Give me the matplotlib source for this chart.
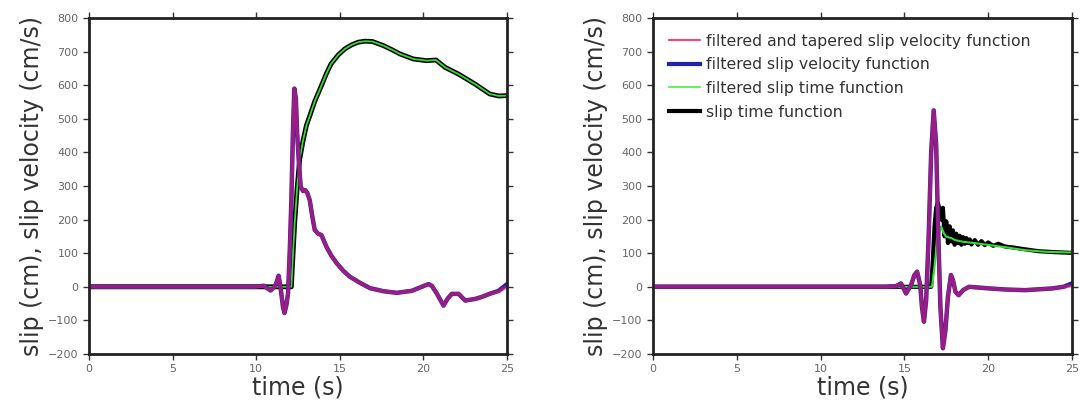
import matplotlib
matplotlib.use("Agg")
import matplotlib.pyplot as plt

# left panel: slip and slip velocity
t_slip_l = [0, 12.0, 12.1, 12.2, 12.3, 12.45, 12.6, 12.8, 13.0, 13.24, 13.5, 13.86, 14.2,
            14.47, 14.9, 15.3, 15.7, 16.1, 16.5, 16.95, 17.6, 18.1, 18.6, 19.4, 20.2,
            20.75, 21.0, 21.3, 22.1, 23.1, 23.96, 24.5, 25]
slip_l = [0, 0, 0, 98, 190, 296, 380, 435, 480, 514, 552, 594, 635,
          663, 690, 708, 720, 728, 731, 730, 718, 706, 693, 678, 673,
          675, 665, 653, 633, 603, 574, 568, 569]

t_vel_l = [0, 9.9, 10.45, 10.86, 11.05, 11.18, 11.34, 11.48, 11.6, 11.69, 11.8, 11.9,
           12.0, 12.1, 12.2, 12.28, 12.37, 12.45, 12.55, 12.66, 12.8, 12.92, 13.05,
           13.2, 13.35, 13.5, 13.7, 13.9, 14.2, 14.5, 14.8, 15.2, 15.6, 16.2, 16.8,
           17.6, 18.4, 19.3, 20.0, 20.3, 20.5, 20.8, 21.2, 21.45, 21.7, 22.1, 22.5,
           23.1, 23.5, 23.96, 24.5, 25]
vel_l = [0, 0, 3, -11, -2, 8, 33, -12, -60, -78, -55, -21,
         100, 256, 470, 590, 560, 455, 370, 298, 285, 288, 280,
         258, 210, 169, 158, 154, 119, 92, 71, 48, 30, 12, -4,
         -13, -18, -12, 2, 8, 3, -20, -56, -35, -21, -21, -41,
         -36, -30, -21, -12, 8]
vel_tap_l = [0, 0, 3, -11, -2, 8, 33, -12, -60, -78, -55, -21,
             100, 256, 470, 590, 560, 455, 370, 298, 285, 288, 280,
             258, 210, 169, 158, 154, 119, 92, 71, 48, 30, 12, -4,
             -13, -18, -12, 2, 8, 3, -20, -56, -35, -21, -21, -41,
             -36, -30, -21, -14, 0]

# right panel
t_vel_r = [0, 13.9, 14.5, 14.8, 15.1, 15.4, 15.6, 15.76, 15.95, 16.05, 16.17, 16.3,
           16.45, 16.6, 16.75, 16.9, 17.0, 17.15, 17.3, 17.45, 17.6, 17.78, 17.9,
           18.05, 18.24, 18.5, 18.86, 20.1, 21.0, 22.2, 23.8, 24.5, 25]
vel_r = [0, 0, 2, 10, -20, 5, 35, 45, 5, -60, -104, -40,
         150, 400, 525, 420, 200, -60, -183, -130, -30, 35, 20,
         -15, -25, -10, 0, -5, -8, -10, -5, 0, 10]
vel_tap_r = [0, 0, 2, 10, -20, 5, 35, 45, 5, -60, -104, -40,
             150, 400, 525, 420, 200, -60, -183, -130, -30, 35, 20,
             -15, -25, -10, 0, -5, -8, -10, -5, 0, 3]

t_slip_r = [0, 16.6, 16.7, 16.8, 16.9, 17.0, 17.1, 17.2, 17.3, 17.4, 17.5, 17.6, 17.7,
            17.8, 17.9, 18.0, 18.1, 18.2, 18.3, 18.4, 18.5, 18.6, 18.7, 18.8, 18.9,
            19.0, 19.2, 19.4, 19.6, 19.8, 20.0, 20.3, 20.6, 21.0, 21.5, 22.0, 23.0, 24.0, 25]
slip_r = [0, 0, 80, 180, 235, 250, 230, 200, 235, 150, 195, 130, 180,
          135, 168, 125, 158, 130, 152, 125, 148, 128, 145, 130, 141,
          126, 139, 125, 136, 124, 132, 122, 128, 120, 117, 113, 106, 103, 101]
t_fslip_r = [0, 16.65, 16.8, 16.9, 17.1, 17.2, 17.35, 17.5, 17.8, 18.03, 18.5, 19.2, 20.1,
             21.0, 22.2, 23.5, 25]
fslip_r = [0, 0, 60, 110, 165, 179, 160, 149, 145, 139, 134, 130, 124,
           118, 109, 104, 102]

xticks = [0, 5, 10, 15, 20, 25]
yticks = [-200, -100, 0, 100, 200, 300, 400, 500, 600, 700, 800]

fig = plt.figure(figsize=(10.82, 4.12), dpi=100)
ax1 = fig.add_axes([0.0823, 0.1408, 0.3863, 0.8155])
ax2 = fig.add_axes([0.6035, 0.1408, 0.3872, 0.8155])


def style(ax):
    ax.set_xlim(0, 25)
    ax.set_ylim(-200, 800)
    ax.set_xticks(xticks)
    ax.set_yticks(yticks)
    ax.tick_params(direction="out", length=4, width=1, top=True, right=True,
                   labelsize=8, labelcolor="#666666", color="#333333")
    for s in ax.spines.values():
        s.set_linewidth(2)
        s.set_color("#222222")
    ax.set_xlabel("time (s)", fontsize=17, color="#333333", labelpad=1)
    ax.set_ylabel("slip (cm), slip velocity (cm/s)", fontsize=17, color="#333333", labelpad=3)


ax1.plot(t_slip_l, slip_l, color="black", lw=3.5)
ax1.plot(t_slip_l, slip_l, color="#33dd33", lw=1.3)
ax1.plot(t_vel_l, vel_l, color="#2222aa", lw=3.2)
ax1.plot(t_vel_l, vel_tap_l, color="#ff1a66", lw=2.6, alpha=0.55)
style(ax1)

ax2.plot(t_slip_r, slip_r, color="black", lw=3)
ax2.plot(t_fslip_r, fslip_r, color="#33dd33", lw=1.5)
ax2.plot(t_vel_r, vel_r, color="#2222aa", lw=3.2)
ax2.plot(t_vel_r, vel_tap_r, color="#ff1a66", lw=2.6, alpha=0.55)
style(ax2)

h_tap = plt.Line2D([], [], color="#ff1a55", lw=1.2)
h_vel = plt.Line2D([], [], color="#2222aa", lw=3)
h_fs = plt.Line2D([], [], color="#44ee44", lw=1.2)
h_s = plt.Line2D([], [], color="black", lw=3)
ax2.legend([h_tap, h_vel, h_fs, h_s],
           ["filtered and tapered slip velocity function", "filtered slip velocity function",
            "filtered slip time function", "slip time function"],
           loc="upper left", frameon=False, fontsize=11.3, handlelength=2.0,
           handletextpad=0.4, labelspacing=0.55, borderaxespad=0.6,
           labelcolor="#333333")

fig.savefig("out.png", dpi=100)
